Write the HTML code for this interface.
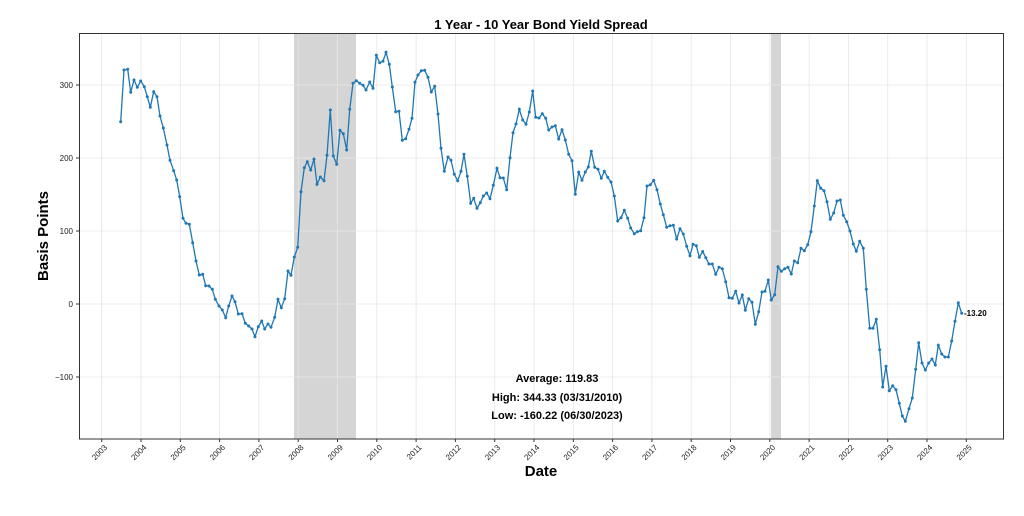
<!DOCTYPE html>
<html><head><meta charset="utf-8"><style>
body{margin:0;background:#fff;}
svg{display:block;font-family:"Liberation Sans","DejaVu Sans",sans-serif;}
</style></head><body>
<svg width="1024" height="516" viewBox="0 0 1024 516" xmlns="http://www.w3.org/2000/svg">
<rect width="1024" height="516" fill="#fff"/>
<rect x="294" y="33" width="62" height="406" fill="#d5d5d5"/>
<rect x="771" y="33" width="10" height="406" fill="#d5d5d5"/>
<g stroke="#e6e6e6" stroke-width="0.8" id="grid"></g>
<g id="plot"></g>
<rect x="79.5" y="33.5" width="924" height="405.5" fill="none" stroke="#333" stroke-width="1"/>
<text x="541" y="29" text-anchor="middle" font-size="13" font-weight="bold">1 Year - 10 Year Bond Yield Spread</text>
<text x="541" y="476" text-anchor="middle" font-size="15" font-weight="bold">Date</text>
<text transform="translate(48,236) rotate(-90)" text-anchor="middle" font-size="15" font-weight="bold">Basis Points</text>
<g font-size="11" font-weight="bold" text-anchor="middle">
<text x="557" y="382">Average: 119.83</text>
<text x="557" y="401">High: 344.33 (03/31/2010)</text>
<text x="557" y="419">Low: -160.22 (06/30/2023)</text>
</g>
<text x="964" y="316" font-size="8" font-weight="bold">-13.20</text>
<g id="ylab" font-size="8" text-anchor="end" fill="#222"></g>
<g id="xlab" font-size="8" fill="#222"></g>
<script>
var ns="http://www.w3.org/2000/svg";
function el(t,a,p){var e=document.createElementNS(ns,t);for(var k in a)e.setAttribute(k,a[k]);p.appendChild(e);return e;}
var g=document.getElementById('grid'),yl=document.getElementById('ylab'),xl=document.getElementById('xlab');
var ys=[[85,"300"],[158,"200"],[231,"100"],[304,"0"],[377,"\u2212100"]];
ys.forEach(function(v){el('line',{x1:80,x2:1003,y1:v[0],y2:v[0]},g);el('line',{x1:76,x2:79,y1:v[0],y2:v[0],stroke:'#333'},yl);var t=el('text',{x:73,y:v[0]+3},yl);t.textContent=v[1];});
for(var i=0;i<=22;i++){var x=101.7+i*39.3;el('line',{x1:x,x2:x,y1:34,y2:439},g);el('line',{x1:x,x2:x,y1:439,y2:442,stroke:'#333'},xl);var t=el('text',{x:0,y:0,'text-anchor':'end',transform:'translate('+(x+6)+',448) rotate(-45)'},xl);t.textContent=2003+i;}
var pts=[[120.7,121.7],[124,70],[127.7,69.3],[130.7,92.3],[134,80],[137.3,87.3],[140.7,81],[144.3,86.7],[147.3,96.7],[150.3,107.3],[153.7,91.7],[157,96.7],[160,116],[163.3,128],[167,145],[170,160.3],[173.7,170.7],[176.7,180],[179.7,196.7],[183,218.3],[186,223.3],[189.3,224.3],[192.7,242.7],[196,261],[199.3,275],[202.7,274.3],[205.7,285.7],[209,286],[212.3,289.3],[215.3,299.3],[219,306],[222.3,310],[225.7,317.7],[228.7,306],[232,296],[235,301.7],[238.3,314],[242,313.7],[245.3,323.3],[248.7,326],[252,329],[255,336.7],[258.3,326.7],[261.7,321],[264.7,329],[268,324],[271,327.3],[274.7,317.3],[278,299.3],[281.3,307.7],[284.7,298.7],[288,271],[291,275.3],[294.3,257],[297.7,247.3],[301,191.7],[304.3,167.7],[307.3,161.7],[310.7,170],[314,159],[317,184.3],[320.3,177],[324,180.7],[327,155.3],[330.3,110],[333.3,156],[336.7,164.3],[340,130.3],[343.3,133.7],[346.7,150],[349.7,109.3],[353,83.3],[356.3,80.7],[359.7,83.3],[363,85.3],[366,90],[369.7,82],[373,88.3],[376.3,55.3],[379.7,62.7],[383,61.3],[386,52.3],[389.3,64.3],[392.3,87],[395.7,111.7],[399,111.3],[402.3,140.3],[405.7,138.7],[409,129.3],[412,118.3],[415,82.3],[418,75],[421.3,70.7],[424.7,70.3],[428,77.3],[431.3,92],[434.7,86.3],[438,114],[441,148.3],[444.3,171.3],[448,157],[451,160.3],[454.3,174.3],[457.7,180.7],[461,171.3],[464,154.3],[467.3,176.3],[470.7,203.3],[473.7,198.3],[477,208.3],[480.3,202.7],[483.3,196],[486.7,193],[490,198.7],[493.3,185.3],[497,168.3],[500,177.7],[503.3,178],[506.7,189.7],[510,157.7],[513,132.7],[516,124],[519.3,109.3],[522.7,120],[526,124.3],[529.3,112],[532.7,91],[535.7,117.3],[539,118],[542.3,113.7],[545.7,118.3],[548.7,130],[552,127],[555.3,125.7],[558.7,139],[562,129.7],[565.3,140],[568.7,154.3],[572,160.7],[575.3,194.3],[578.7,172.3],[582,180.3],[585.3,172],[588.3,167],[591.3,151.3],[594.7,167.3],[598,169.3],[601.3,178.3],[604.3,171.3],[607.7,177.3],[611,182],[614.3,196],[617.7,221],[621,217.7],[624.3,210.3],[627.7,218.3],[630.7,228],[634.3,233.7],[637.3,231.7],[640.7,230.7],[644,217.7],[647,186],[650.3,184.7],[653.7,180.3],[657,189.7],[660.3,204],[663.3,214.7],[666.7,227.3],[670,225.7],[673.3,225.3],[676.7,239],[680,228.7],[683.3,234],[686.7,246.3],[690,255.7],[693,244.3],[696.3,245.7],[699.3,257.3],[702.7,251.5],[705.8,257.7],[709,264],[712.3,264],[715.7,274.3],[719,267.3],[722.3,268.7],[725.7,281.7],[729,297.7],[732.3,298.3],[735.7,291.3],[739,303],[742.3,295],[745.3,310.3],[748.7,298.7],[752,302.3],[755.3,324.3],[758.7,311.7],[762,292],[765,291.3],[768.3,280],[771.3,300],[774.7,294.7],[778,266.7],[781.3,271.3],[784.7,268.7],[788,267.3],[791.3,274],[794.3,261],[797.7,262.7],[801,248.3],[804.3,250.7],[807.7,244.7],[811,231.7],[814.3,206],[817.3,180.7],[820.7,188.3],[824,190.7],[827,201.7],[830.3,219.3],[833.7,213],[837,201],[840.3,200],[843.3,215.3],[846.7,221.7],[850,231],[853.3,244],[856.3,251.3],[859.7,241.3],[863.3,248.3],[866.3,289.3],[869.7,328.3],[873,328.3],[876.3,319.3],[879.7,349.7],[882.7,387],[886,366.3],[889.3,390.7],[892.7,385.7],[896,389.7],[899.3,403.3],[902.3,416],[905.3,421.3],[909,408.7],[912.3,398],[915.7,369.3],[918.7,342.7],[922,363],[925.3,370],[928.7,363],[932,359],[935.3,365],[938.3,345.3],[941.7,354],[945,357],[948.3,357],[951.7,341],[955,321.3],[958.3,302.7],[961.7,313.3]];
var p=document.getElementById('plot');
el('polyline',{points:pts.map(function(a){return a.join(',')}).join(' '),fill:'none',stroke:'#1f77b4','stroke-width':1.3},p);
pts.forEach(function(a){el('circle',{cx:a[0],cy:a[1],r:1.5,fill:'#1f77b4'},p);});
</script>
</svg>
</body></html>
